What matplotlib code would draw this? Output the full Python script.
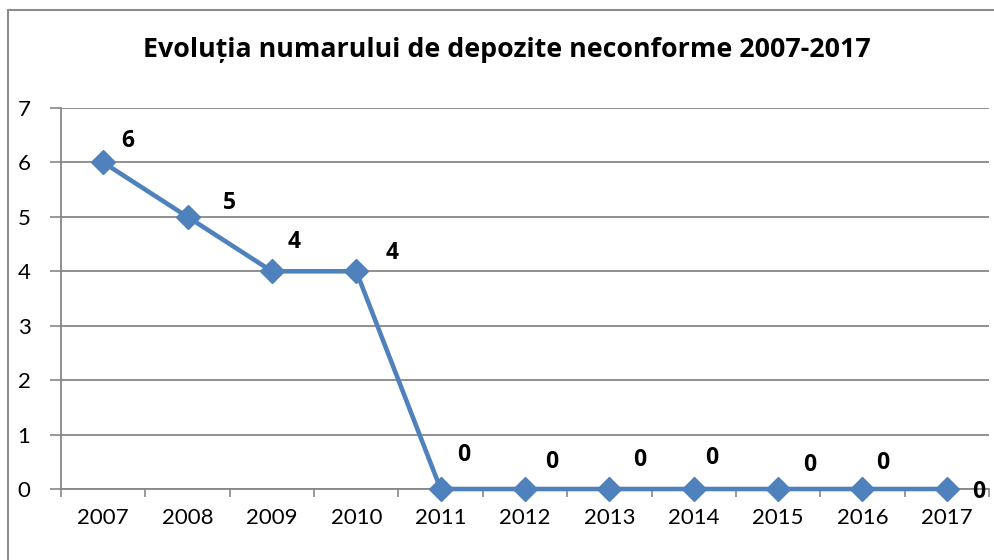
import matplotlib
matplotlib.use("Agg")
import matplotlib.pyplot as plt
from matplotlib.lines import Line2D

years = ["2007", "2008", "2009", "2010", "2011", "2012", "2013", "2014", "2015", "2016", "2017"]
values = [6, 5, 4, 4, 0, 0, 0, 0, 0, 0, 0]
yticks = [0, 1, 2, 3, 4, 5, 6, 7]
title = "Evoluția numarului de depozite neconforme 2007-2017"

# label offsets in pixels (style)
label_offsets = [(25, 21), (42, 14), (22, 29), (36, 18), (23, 34), (27, 27),
                 (30, 29), (18, 31), (32, 24), (20, 26), (32, -3)]

plt.rcParams['font.family'] = ['Lato', 'DejaVu Sans']
bold_family = ['Open Sans', 'DejaVu Sans']

W, H = 995, 560
fig = plt.figure(figsize=(W / 100, H / 100), dpi=100)
ax = fig.add_axes([61 / W, (H - 489) / H, (989 - 61) / W, (489 - 108) / H])

grid_col = "#878787"
line_col = "#4F81BD"

x = list(range(len(years)))
ax.plot(x, values, color=line_col, lw=3.3, marker="D", markersize=12,
        markerfacecolor=line_col, markeredgecolor=line_col, zorder=3, clip_on=False)

for xi, v, (dx, dy) in zip(x, values, label_offsets):
    ax.annotate(str(v), (xi, v), xytext=(dx, dy), textcoords="offset pixels",
                ha="center", va="center", fontsize=16.5, fontweight="bold",
                family=bold_family, color="black", zorder=4, annotation_clip=False)

ax.set_xlim(-0.5, len(years) - 0.5)
ax.set_ylim(0, 7)
ax.set_yticks(yticks)
ax.set_yticklabels([str(t) for t in yticks])
ax.set_xticks(x)
ax.set_xticklabels(years)
ax.set_xticks([i - 0.5 for i in range(len(years) + 1)], minor=True)

ax.tick_params(axis="x", which="major", length=0, pad=14, labelsize=16)
ax.tick_params(axis="x", which="minor", length=6, width=1.2, color=grid_col, direction="out")
ax.tick_params(axis="y", which="major", length=8, width=1.2, color=grid_col, pad=14, labelsize=16)

ax.yaxis.grid(True, color=grid_col, lw=1.3)
ax.set_axisbelow(True)
for s in ["top", "right"]:
    ax.spines[s].set_visible(False)
for s in ["left", "bottom"]:
    ax.spines[s].set_color(grid_col)
    ax.spines[s].set_linewidth(1.3)

fig.text(507 / W, 1 - 50 / H, title, ha="center", va="center",
         fontsize=19.3, fontweight="bold", family=bold_family)

# outer chart frame
fig.add_artist(Line2D([8 / W, 8 / W], [1 - 10 / H, 0], transform=fig.transFigure,
                      color="#8c8c8c", lw=1.5))
fig.add_artist(Line2D([8 / W, 1], [1 - 10 / H, 1 - 10 / H], transform=fig.transFigure,
                      color="#8c8c8c", lw=1.5))

fig.savefig("out.png", dpi=100)
